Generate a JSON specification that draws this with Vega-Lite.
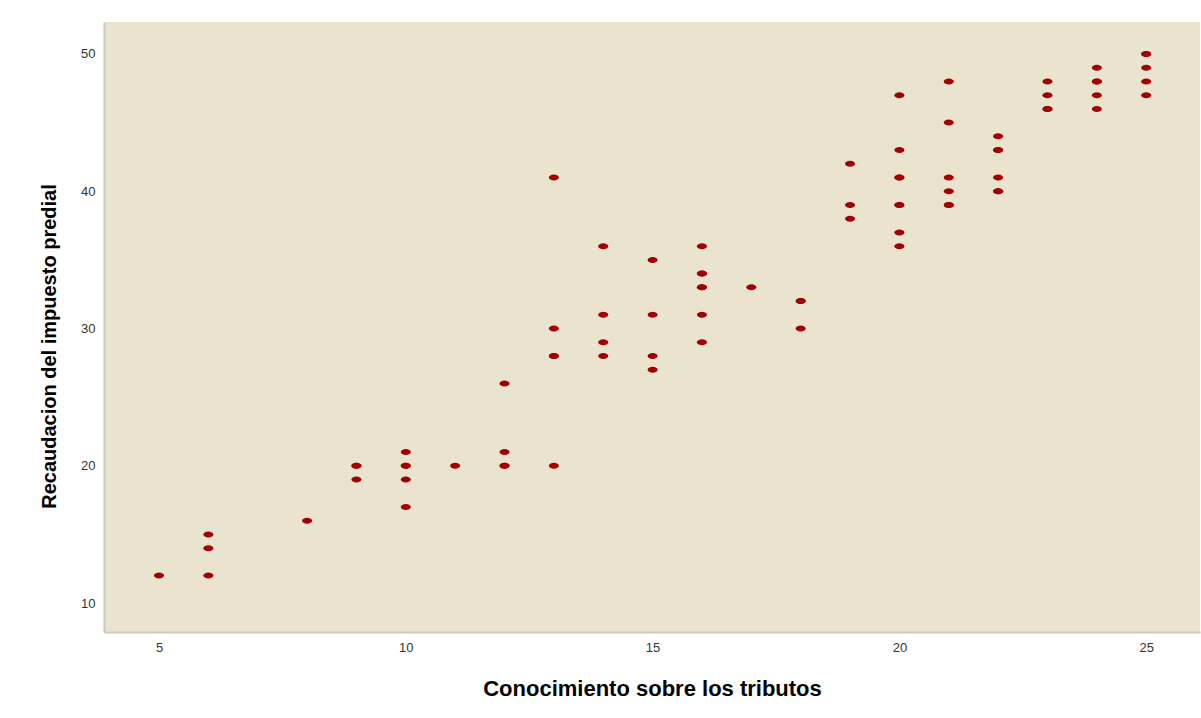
{
  "$schema": "https://vega.github.io/schema/vega-lite/v6.json",
  "description": "Scatter of conocimiento vs recaudacion",
  "width": 1096,
  "height": 610,
  "autosize": {"type": "none"},
  "padding": {"left": 104, "top": 22, "right": 1, "bottom": 86},
  "background": "white",
  "data": {
    "values": [
      {"conocimiento": 5, "recaudacion": 12},
      {"conocimiento": 6, "recaudacion": 15},
      {"conocimiento": 6, "recaudacion": 14},
      {"conocimiento": 6, "recaudacion": 12},
      {"conocimiento": 8, "recaudacion": 16},
      {"conocimiento": 9, "recaudacion": 20},
      {"conocimiento": 9, "recaudacion": 20},
      {"conocimiento": 9, "recaudacion": 19},
      {"conocimiento": 10, "recaudacion": 21},
      {"conocimiento": 10, "recaudacion": 20},
      {"conocimiento": 10, "recaudacion": 20},
      {"conocimiento": 10, "recaudacion": 19},
      {"conocimiento": 10, "recaudacion": 17},
      {"conocimiento": 11, "recaudacion": 20},
      {"conocimiento": 12, "recaudacion": 26},
      {"conocimiento": 12, "recaudacion": 21},
      {"conocimiento": 12, "recaudacion": 20},
      {"conocimiento": 12, "recaudacion": 20},
      {"conocimiento": 13, "recaudacion": 41},
      {"conocimiento": 13, "recaudacion": 30},
      {"conocimiento": 13, "recaudacion": 28},
      {"conocimiento": 13, "recaudacion": 28},
      {"conocimiento": 13, "recaudacion": 20},
      {"conocimiento": 14, "recaudacion": 36},
      {"conocimiento": 14, "recaudacion": 31},
      {"conocimiento": 14, "recaudacion": 29},
      {"conocimiento": 14, "recaudacion": 28},
      {"conocimiento": 15, "recaudacion": 35},
      {"conocimiento": 15, "recaudacion": 31},
      {"conocimiento": 15, "recaudacion": 28},
      {"conocimiento": 15, "recaudacion": 27},
      {"conocimiento": 16, "recaudacion": 36},
      {"conocimiento": 16, "recaudacion": 34},
      {"conocimiento": 16, "recaudacion": 34},
      {"conocimiento": 16, "recaudacion": 33},
      {"conocimiento": 16, "recaudacion": 33},
      {"conocimiento": 16, "recaudacion": 31},
      {"conocimiento": 16, "recaudacion": 29},
      {"conocimiento": 17, "recaudacion": 33},
      {"conocimiento": 18, "recaudacion": 32},
      {"conocimiento": 18, "recaudacion": 32},
      {"conocimiento": 18, "recaudacion": 30},
      {"conocimiento": 19, "recaudacion": 42},
      {"conocimiento": 19, "recaudacion": 39},
      {"conocimiento": 19, "recaudacion": 38},
      {"conocimiento": 20, "recaudacion": 47},
      {"conocimiento": 20, "recaudacion": 43},
      {"conocimiento": 20, "recaudacion": 41},
      {"conocimiento": 20, "recaudacion": 41},
      {"conocimiento": 20, "recaudacion": 39},
      {"conocimiento": 20, "recaudacion": 39},
      {"conocimiento": 20, "recaudacion": 37},
      {"conocimiento": 20, "recaudacion": 36},
      {"conocimiento": 21, "recaudacion": 48},
      {"conocimiento": 21, "recaudacion": 45},
      {"conocimiento": 21, "recaudacion": 41},
      {"conocimiento": 21, "recaudacion": 40},
      {"conocimiento": 21, "recaudacion": 39},
      {"conocimiento": 21, "recaudacion": 39},
      {"conocimiento": 22, "recaudacion": 44},
      {"conocimiento": 22, "recaudacion": 43},
      {"conocimiento": 22, "recaudacion": 43},
      {"conocimiento": 22, "recaudacion": 41},
      {"conocimiento": 22, "recaudacion": 40},
      {"conocimiento": 22, "recaudacion": 40},
      {"conocimiento": 23, "recaudacion": 48},
      {"conocimiento": 23, "recaudacion": 47},
      {"conocimiento": 23, "recaudacion": 46},
      {"conocimiento": 23, "recaudacion": 46},
      {"conocimiento": 24, "recaudacion": 49},
      {"conocimiento": 24, "recaudacion": 48},
      {"conocimiento": 24, "recaudacion": 48},
      {"conocimiento": 24, "recaudacion": 47},
      {"conocimiento": 24, "recaudacion": 46},
      {"conocimiento": 25, "recaudacion": 50},
      {"conocimiento": 25, "recaudacion": 50},
      {"conocimiento": 25, "recaudacion": 49},
      {"conocimiento": 25, "recaudacion": 48},
      {"conocimiento": 25, "recaudacion": 47}
    ]
  },
  "mark": {
    "type": "point",
    "shape": "M-1,0A1,0.6,0,1,0,1,0A1,0.6,0,1,0,-1,0Z",
    "size": 100,
    "filled": true,
    "opacity": 1,
    "color": "#a30000"
  },
  "encoding": {
    "x": {
      "field": "conocimiento",
      "type": "quantitative",
      "title": "Conocimiento sobre los tributos",
      "scale": {"domain": [3.886, 26.09], "nice": false, "zero": false},
      "axis": {"values": [5, 10, 15, 20, 25], "titlePadding": 24, "titleFontSize": 22}
    },
    "y": {
      "field": "recaudacion",
      "type": "quantitative",
      "title": "Recaudacion del impuesto predial",
      "scale": {"domain": [7.89, 52.33], "nice": false, "zero": false},
      "axis": {"values": [10, 20, 30, 40, 50], "titlePadding": 21, "titleFontSize": 20, "titleY": 324}
    }
  },
  "config": {
    "view": {"fill": "#eae4ce", "stroke": null},
    "axis": {
      "grid": false,
      "ticks": false,
      "domainColor": "#cdc7b6",
      "domainWidth": 2,
      "labelFont": "Liberation Sans",
      "labelFontSize": 13,
      "labelColor": "#333333",
      "labelPadding": 9,
      "titleFont": "Liberation Sans",
      "titleFontWeight": "bold",
      "titleColor": "#000000"
    }
  }
}
